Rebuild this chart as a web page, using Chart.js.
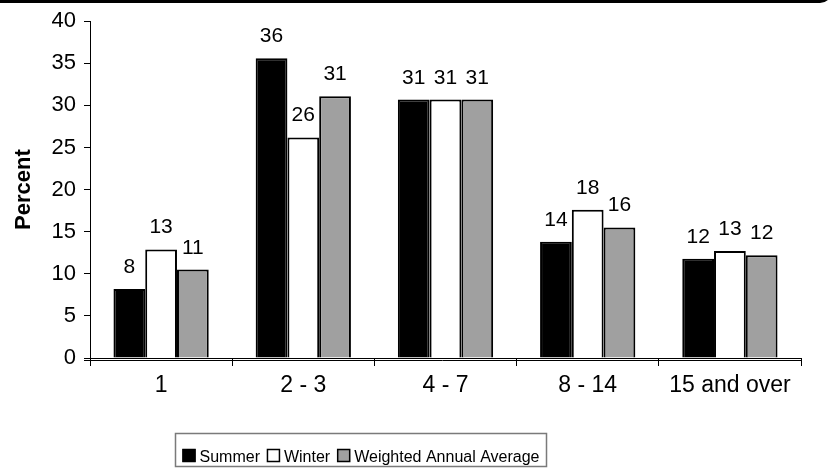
<!DOCTYPE html>
<html>
<head>
<meta charset="utf-8">
<script src="https://cdn.jsdelivr.net/npm/chart.js@4/dist/chart.umd.min.js"></script>
<style>
  html, body { margin: 0; padding: 0; background: #fff; overflow: hidden; }
  #wrap { position: relative; width: 835px; height: 470px; }
  #frame {
    position: absolute; left: -20px; top: -33px; width: 846px; height: 30px;
    border: 3px solid #000; border-radius: 12px;
  }
  canvas { position: absolute; left: 0; top: 0; }
</style>
</head>
<body>
<div id="wrap">
  <div id="frame"></div>
  <canvas id="chart" width="835" height="470"></canvas>
</div>
<script>
// Length-of-stay groups (nights) and the share of trips in each, by season
const categories = ['1', '2 - 3', '4 - 7', '8 - 14', '15 and over'];
const seriesNames = ['Summer', 'Winter', 'Weighted Annual Average'];
const summer = [8.2, 35.6, 30.7, 13.8, 11.8];
const winter = [12.9, 26.2, 30.7, 17.6, 12.7];
const weighted = [10.5, 31.1, 30.7, 15.5, 12.2];
const yMin = 0, yMax = 40, yStep = 5;

const FONT = '"Liberation Sans", Arial, sans-serif';
const fills = ['#000000', '#ffffff', '#a0a0a0'];

// Value labels above each bar
const valueLabels = {
  id: 'valueLabels',
  afterDatasetsDraw(chart) {
    const ctx = chart.ctx;
    ctx.save();
    ctx.font = '21px ' + FONT;
    ctx.fillStyle = '#000';
    ctx.textAlign = 'center';
    ctx.textBaseline = 'alphabetic';
    chart.data.datasets.forEach((ds, i) => {
      chart.getDatasetMeta(i).data.forEach((bar, j) => {
        ctx.fillText(String(Math.round(ds.data[j])), bar.x, bar.y - 16);
      });
    });
    ctx.restore();
  }
};

// Second baseline just under the zero line, and the boxed legend
const extras = {
  id: 'extras',
  afterDraw(chart) {
    const ctx = chart.ctx;
    const area = chart.chartArea;
    const y0 = chart.scales.y.getPixelForValue(0);
    ctx.save();
    ctx.strokeStyle = '#000';
    ctx.lineWidth = 1;
    ctx.beginPath();
    ctx.moveTo(84, Math.round(y0) + 2.5);
    ctx.lineTo(area.right, Math.round(y0) + 2.5);
    ctx.moveTo(84, Math.round(y0) + 0.5);
    ctx.lineTo(area.left, Math.round(y0) + 0.5);
    ctx.stroke();

    // legend
    ctx.font = '16px ' + FONT;
    const sq = 13, gapA = 4, gapB = 7, padX = 7;
    const widths = chart.data.datasets.map(d => ctx.measureText(d.label).width);
    let total = padX * 2;
    widths.forEach((w, i) => { total += sq + gapA + w + (i < widths.length - 1 ? gapB : 0); });
    const boxLeft = Math.round(360 - total / 2) + 0.5, boxTop = 433.5, boxH = 33;
    ctx.strokeStyle = '#7a7a7a';
    ctx.lineWidth = 1.5;
    ctx.strokeRect(boxLeft, boxTop, total, boxH);
    let x = boxLeft + padX;
    const base = 462;
    chart.data.datasets.forEach((d, i) => {
      ctx.fillStyle = d.backgroundColor;
      ctx.fillRect(x, base - sq, sq, sq);
      ctx.strokeStyle = '#000';
      ctx.lineWidth = 1.5;
      ctx.strokeRect(x + 0.5, base - sq + 0.5, sq - 1, sq - 1);
      x += sq + gapA;
      ctx.fillStyle = '#000';
      ctx.textAlign = 'left';
      ctx.textBaseline = 'alphabetic';
      ctx.fillText(d.label, x, base);
      x += widths[i] + gapB;
    });
    ctx.restore();
  }
};

const datasets = [summer, winter, weighted].map((values, i) => ({
  label: seriesNames[i],
  data: values,
  backgroundColor: fills[i],
  borderColor: '#000',
  borderWidth: 2,
  borderSkipped: 'bottom',
  categoryPercentage: 0.67,
  barPercentage: 1.0
}));

new Chart(document.getElementById('chart'), {
  type: 'bar',
  data: { labels: categories, datasets },
  options: {
    responsive: false,
    animation: false,
    events: [],
    layout: { padding: { top: 20, right: 34, left: 0, bottom: 0 } },
    plugins: { legend: { display: false }, tooltip: { enabled: false } },
    scales: {
      x: {
        afterFit(scale) { scale.height = 112; },
        grid: { display: true, drawOnChartArea: false, offset: true, tickLength: 8, color: '#000', lineWidth: 1 },
        border: { display: true, color: '#000', width: 1 },
        ticks: { color: '#000', font: { family: FONT, size: 23 }, padding: 6, maxRotation: 0 }
      },
      y: {
        min: yMin, max: yMax,
        afterFit(scale) { scale.width = 90; },
        grid: { display: true, drawOnChartArea: false, tickLength: 6, color: '#000', lineWidth: 1 },
        border: { display: true, color: '#000', width: 1 },
        ticks: { stepSize: yStep, color: '#000', font: { family: FONT, size: 22 }, padding: 8 },
        title: {
          display: true, text: 'Percent', color: '#000',
          font: { family: FONT, size: 22, weight: 'bold' },
          padding: { top: 11, bottom: 0 }
        }
      }
    }
  },
  plugins: [valueLabels, extras]
});
</script>
</body>
</html>
